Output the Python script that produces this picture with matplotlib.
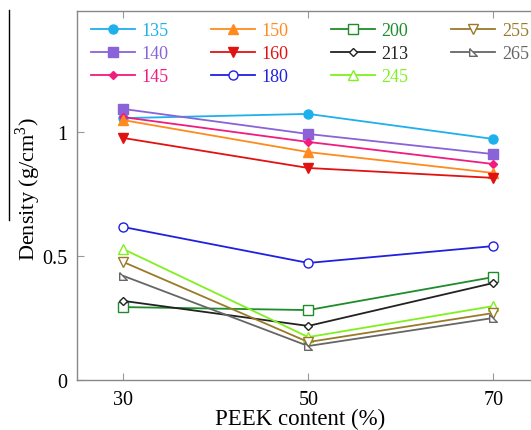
import matplotlib
matplotlib.use("Agg")
import matplotlib.pyplot as plt
from matplotlib.lines import Line2D

plt.rcParams['font.family'] = ['Liberation Serif', 'DejaVu Serif']
plt.rcParams['mathtext.fontset'] = 'custom'
plt.rcParams['mathtext.rm'] = 'Liberation Serif'

peek = [30, 50, 70]
labels = ['135', '140', '145', '150', '160', '180', '200', '213', '245', '255', '265']
d135 = [1.056, 1.073, 0.972]
d140 = [1.093, 0.992, 0.911]
d145 = [1.060, 0.960, 0.871]
d150 = [1.048, 0.919, 0.835]
d160 = [0.976, 0.855, 0.815]
d180 = [0.617, 0.472, 0.540]
d200 = [0.294, 0.282, 0.415]
d213 = [0.319, 0.218, 0.391]
d245 = [0.528, 0.173, 0.298]
d255 = [0.476, 0.153, 0.270]
d265 = [0.420, 0.137, 0.250]
series = [d135, d140, d145, d150, d160, d180, d200, d213, d245, d255, d265]

colors = ['#1EB0EC', '#8A63D8', '#F01C80', '#FF8A1E', '#E01212', '#2020E0',
          '#1E8C2A', '#222222', '#80F020', '#9A7A28', '#666666']
tri265 = [(-1, 1), (-1, -1), (1, -1), (-1, 1)]
markers = ['o', 's', 'D', '^', 'v', 'o', 's', 'D', '^', 'v', tri265]
filled = [True, True, True, True, True, False, False, False, False, False, False]
msizes = [6.5, 6.5, 4.5, 6.5, 6.5, 6.5, 6.5, 4.5, 6.5, 6.5, 5.5]

fig = plt.figure(figsize=(5.31, 4.31), dpi=100)
ax = fig.add_axes([77/531, 50/431, 462.5/531, 369/431])

handles = []
for i in range(len(series)):
    mfc = colors[i] if filled[i] else 'white'
    h, = ax.plot(peek, series[i], color=colors[i], marker=markers[i], ms=msizes[i],
                 mfc=mfc, mec=colors[i], lw=1.3, label=labels[i], clip_on=False)
    handles.append(h)

leg = ax.legend(handles, labels,
                ncol=4, loc='upper left', bbox_to_anchor=(14/462.5, 1 - 11/369),
                frameon=False, fontsize=13, handlelength=2.45, handletextpad=0.35,
                columnspacing=2.35, labelspacing=0.33, borderaxespad=0, borderpad=0)
for t, c in zip(leg.get_texts(), colors):
    t.set_color(c)

ax.set_xlim(25, 75)
ax.set_ylim(0, 1.488)
ax.set_xticks([30, 50, 70])
ax.set_yticks([0, 0.5, 1])
ax.set_yticklabels(['0', '0.5', '1'])
ax.tick_params(direction='in', top=True, right=True, color='#999999', length=5,
               labelsize=14.5, pad=7)
for s in ax.spines.values():
    s.set_color('#888888')
    s.set_linewidth(1.0)

ax.set_xlabel('PEEK content (%)', fontsize=16.5)
ax.set_ylabel('Density (g/cm$^3$)', fontsize=16)
ax.xaxis.set_label_coords((300 - 77)/462.5, (381 - 409)/369)
ax.yaxis.set_label_coords((43 - 77)/462.5, (381 - 189)/369)

fig.add_artist(Line2D([9/531, 9/531], [1 - 11/431, 1 - 221/431], color='black', lw=1.0,
                      transform=fig.transFigure))

fig.savefig('out.png', dpi=100)
